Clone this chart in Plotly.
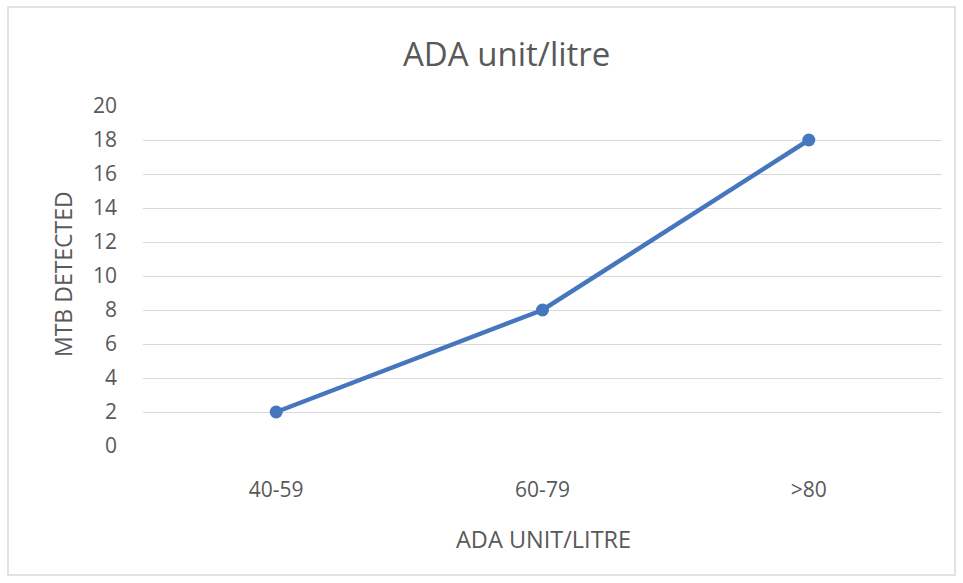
import plotly.graph_objects as go

categories = ["40-59", "60-79", ">80"]
mtb_detected = [2, 8, 18]
y_ticks = list(range(0, 21, 2))

L, R, T, B = 143, 21, 106, 137
W, H = 963, 583
pw, ph = W - L - R, H - T - B

def px_x(x):
    return (x - L) / pw

def px_y(y):
    return (H - B - y) / ph

font = "Open Sans, Liberation Sans, sans-serif"
gray = "#595959"
blue = "#4677BE"

fig = go.Figure()
fig.add_trace(go.Scatter(
    x=categories, y=mtb_detected, mode="lines+markers",
    line=dict(color=blue, width=4.5),
    marker=dict(color=blue, size=13),
    showlegend=False, hoverinfo="x+y",
))

fig.update_layout(
    width=W, height=H,
    margin=dict(l=L, r=R, t=T, b=B, pad=0),
    paper_bgcolor="white", plot_bgcolor="white",
    xaxis=dict(type="category", range=[-0.5, 2.5], showgrid=False, zeroline=False,
               showline=False, ticks="", tickfont=dict(family=font, size=21, color=gray),
               ticklabelstandoff=29),
    yaxis=dict(range=[0, 20], tickvals=y_ticks, showgrid=True, gridcolor="#d9d9d9",
               gridwidth=1, zeroline=False, showline=False, ticks="",
               tickfont=dict(family=font, size=21, color=gray), ticklabelstandoff=25),
    shapes=[dict(type="rect", xref="paper", yref="paper",
                 x0=px_x(8), x1=px_x(955), y0=px_y(575), y1=px_y(7),
                 line=dict(color="#d9d9d9", width=1.5), fillcolor="rgba(0,0,0,0)", layer="below")],
    annotations=[
        dict(text="ADA unit/litre", xref="paper", yref="paper", x=px_x(506), y=px_y(53),
             showarrow=False, font=dict(family=font, size=33, color=gray),
             xanchor="center", yanchor="middle"),
        dict(text="MTB DETECTED", xref="paper", yref="paper", x=px_x(63), y=px_y(274),
             showarrow=False, textangle=-90, font=dict(family=font, size=23, color=gray),
             xanchor="center", yanchor="middle"),
        dict(text="ADA UNIT/LITRE", xref="paper", yref="paper", x=px_x(543), y=px_y(539),
             showarrow=False, font=dict(family=font, size=23.5, color=gray),
             xanchor="center", yanchor="middle"),
    ],
)
fig.write_html("out.html", config={"displayModeBar": False},
               post_script="document.body.style.margin='0';document.body.style.overflow='hidden';")
